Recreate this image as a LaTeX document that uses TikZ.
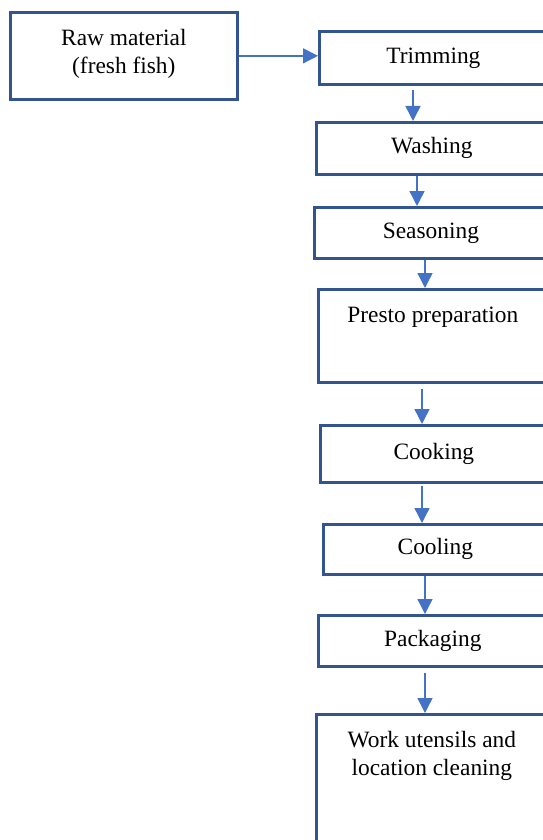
\documentclass[tikz,border=0pt]{standalone}
\usepackage{fontspec}
\setmainfont{Liberation Serif}
\usetikzlibrary{arrows.meta}
\definecolor{boxblue}{RGB}{50,84,145}
\definecolor{arrowblue}{RGB}{68,114,196}
\begin{document}
\begin{tikzpicture}[x=1pt,y=-1pt,
  font=\fontsize{23.4}{28}\selectfont,
  proc box/.style={draw=boxblue,line width=2.7pt,anchor=north west,inner sep=0pt,align=center},
  top text/.style={label={[anchor=north,yshift=-15pt,align=center]north:#1}},
  arr/.style={draw=arrowblue,line width=1.4pt,-{Triangle[width=15pt,length=15pt]}}]

  \useasboundingbox (0,0) rectangle (542,840);

  \node[proc box,minimum width=227,minimum height=87,top text={Raw material\\(fresh fish)}] (1) at (9,11) {};
  \node[proc box,minimum width=228,minimum height=53] (2) at (318,30) {Trimming};
  \node[proc box,minimum width=231,minimum height=52] (3) at (315,121) {Washing};
  \node[proc box,minimum width=233,minimum height=51] (4) at (313,206) {Seasoning};
  \node[proc box,minimum width=229,minimum height=93,top text={Presto preparation}] (5) at (317,288) {};
  \node[proc box,minimum width=227,minimum height=57] (6) at (319,424) {Cooking};
  \node[proc box,minimum width=224,minimum height=50] (7) at (322,523) {Cooling};
  \node[proc box,minimum width=229,minimum height=51] (8) at (317,614) {Packaging};
  \node[proc box,minimum width=231,minimum height=140,top text={Work utensils and\\location cleaning}] (9) at (315,713) {};

  \draw[arr] (1.east) -- (2.west |- 1.east);
  \draw[arr,shorten <=4pt] (2.south -| 413,0) -- (3.north -| 413,0);
  \draw[arr] (3.south -| 417,0) -- (4.north -| 417,0);
  \draw[arr] (4.south -| 425,0) -- (5.north -| 425,0);
  \draw[arr,shorten <=5pt] (5.south -| 422,0) -- (6.north -| 422,0);
  \draw[arr,shorten <=2pt] (6.south -| 422,0) -- (7.north -| 422,0);
  \draw[arr] (7.south -| 425,0) -- (8.north -| 425,0);
  \draw[arr,shorten <=5pt] (8.south -| 425,0) -- (9.north -| 425,0);
\end{tikzpicture}
\end{document}
